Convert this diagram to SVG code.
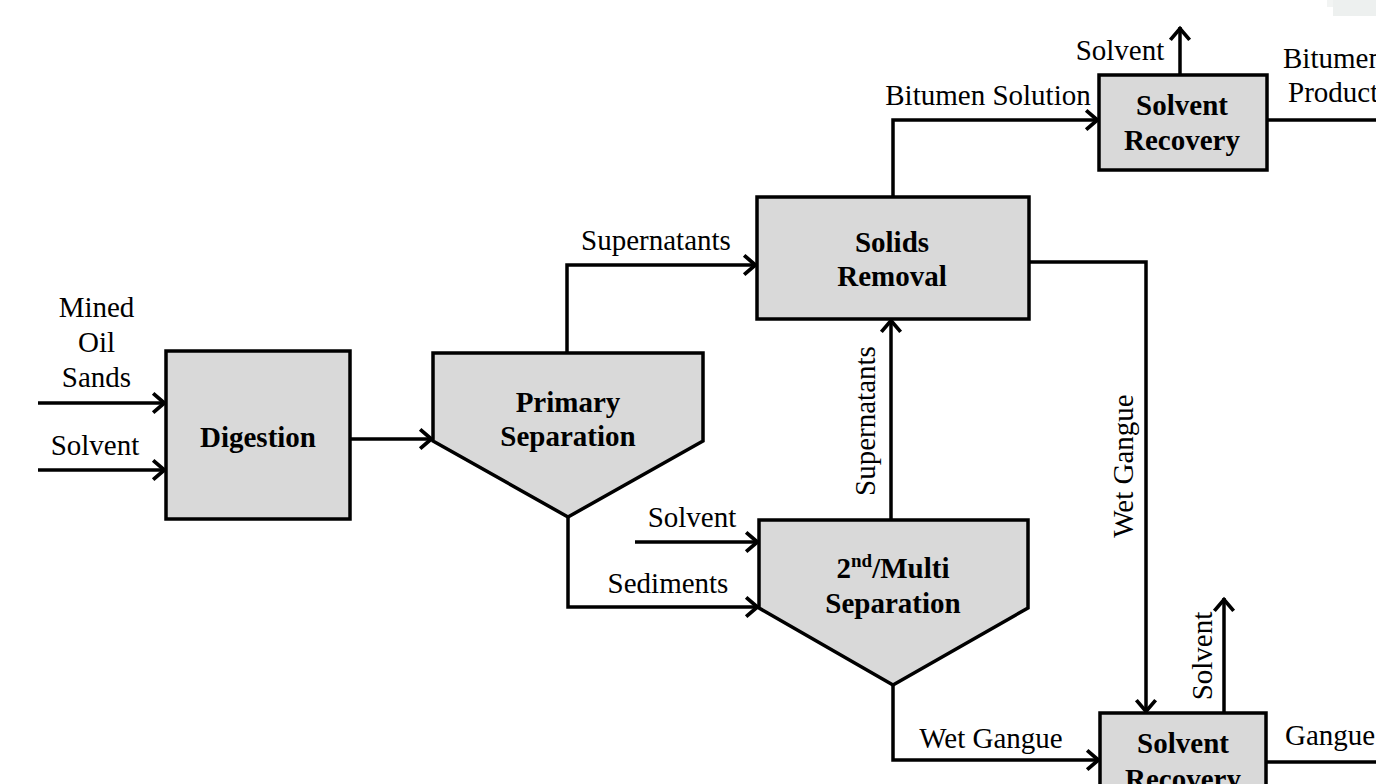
<svg xmlns="http://www.w3.org/2000/svg" width="1376" height="784" viewBox="0 0 1376 784">
<style>
.box{fill:#d9d9d9;stroke:#000;stroke-width:3.5;stroke-linejoin:miter}
.ln{fill:none;stroke:#000;stroke-width:3.5}
.t{font-family:"Liberation Serif","Times New Roman",serif;font-size:29px;fill:#000}
.b{font-family:"Liberation Serif","Times New Roman",serif;font-size:29px;font-weight:bold;fill:#000;text-anchor:middle}
.m{text-anchor:middle}
</style>
<defs>
<marker id="ah" markerUnits="userSpaceOnUse" markerWidth="30" markerHeight="30" viewBox="-16 -14 20 28" refX="0" refY="0" orient="auto">
<path d="M-12,-9 L-1.5,0 L-12,9" fill="none" stroke="#000" stroke-width="3.5"/>
</marker>
</defs>
<rect x="1333" y="0" width="43" height="16" fill="#edf0ef"/>
<rect x="1327" y="0" width="6" height="7" fill="#f2f4f3"/>
<g id="connectors">
<path class="ln" d="M38,403 H166" marker-end="url(#ah)"/>
<path class="ln" d="M38,470 H166" marker-end="url(#ah)"/>
<path class="ln" d="M350,439 H433" marker-end="url(#ah)"/>
<path class="ln" d="M567,353 V265 H757" marker-end="url(#ah)"/>
<path class="ln" d="M568,517 V607 H759" marker-end="url(#ah)"/>
<path class="ln" d="M635,542 H759" marker-end="url(#ah)"/>
<path class="ln" d="M891,520 V319" marker-end="url(#ah)"/>
<path class="ln" d="M893,197 V120 H1099" marker-end="url(#ah)"/>
<path class="ln" d="M1180,75 V27" marker-end="url(#ah)"/>
<path class="ln" d="M1267,120 H1376"/>
<path class="ln" d="M1029,262 H1146 V713" marker-end="url(#ah)"/>
<path class="ln" d="M893,685 V760 H1100" marker-end="url(#ah)"/>
<path class="ln" d="M1224,713 V598" marker-end="url(#ah)"/>
<path class="ln" d="M1266,762 H1376"/>
</g>
<g id="labels">
<text class="t m" x="96.5" y="317">Mined</text>
<text class="t m" x="96.5" y="352">Oil</text>
<text class="t m" x="96.5" y="387">Sands</text>
<text class="t m" x="95" y="455">Solvent</text>
<text class="t m" x="656" y="250">Supernatants</text>
<text class="t m" x="988" y="105">Bitumen Solution</text>
<text class="t m" x="1120" y="60">Solvent</text>
<text class="t" x="1283" y="68">Bitumen</text>
<text class="t" x="1288" y="102">Product</text>
<text class="t m" x="692" y="527">Solvent</text>
<text class="t m" x="668" y="593">Sediments</text>
<text class="t m" x="991" y="748">Wet Gangue</text>
<text class="t m" transform="translate(875,421) rotate(-90)">Supernatants</text>
<text class="t m" transform="translate(1133,466) rotate(-90)">Wet Gangue</text>
<text class="t m" transform="translate(1212,656) rotate(-90)">Solvent</text>
<text class="t" x="1285" y="745">Gangue</text>
</g>
<g id="digestion">
<rect class="box" x="166" y="351" width="184" height="168"/>
<text class="b" x="258" y="447">Digestion</text>
</g>
<g id="primary-separation">
<polygon class="box" points="433,353 703,353 703,441 568,517 433,441"/>
<text class="b" x="568" y="412">Primary</text>
<text class="b" x="568" y="446">Separation</text>
</g>
<g id="solids-removal">
<rect class="box" x="757" y="197" width="272" height="122"/>
<text class="b" x="892" y="252">Solids</text>
<text class="b" x="892" y="286">Removal</text>
</g>
<g id="solvent-recovery-top">
<rect class="box" x="1099" y="75" width="168" height="95"/>
<text class="b" x="1182" y="115">Solvent</text>
<text class="b" x="1182" y="150">Recovery</text>
</g>
<g id="multi-separation">
<polygon class="box" points="759,520 1028,520 1028,608 893,685 759,608"/>
<text class="b" x="893" y="578">2<tspan font-size="19" dy="-11">nd</tspan><tspan dy="11">/Multi</tspan></text>
<text class="b" x="893" y="613">Separation</text>
</g>
<g id="solvent-recovery-bottom">
<rect class="box" x="1100" y="713" width="166" height="100"/>
<text class="b" x="1183" y="753">Solvent</text>
<text class="b" x="1183" y="789">Recovery</text>
</g>
</svg>
